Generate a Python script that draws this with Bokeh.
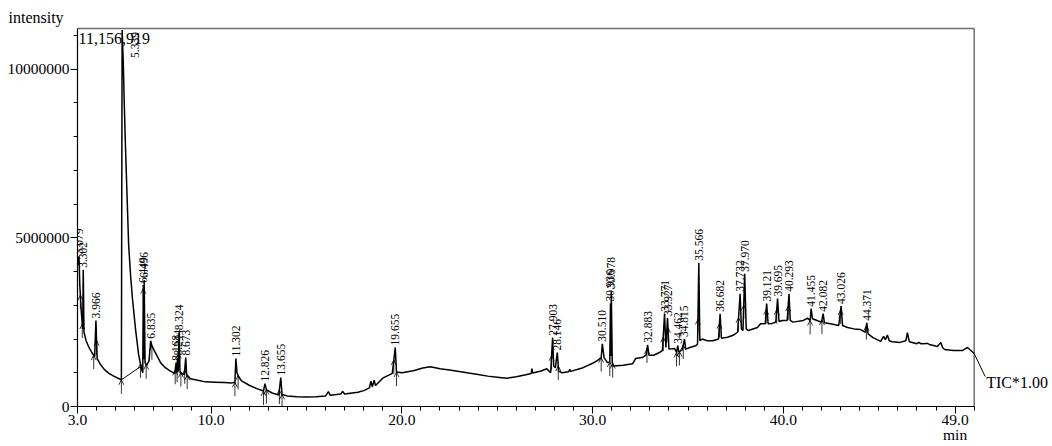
import numpy as np
from bokeh.plotting import figure
from bokeh.models import (FixedTicker, PrintfTickFormatter, ColumnDataSource, Range1d, LinearAxis)
from bokeh.core.properties import value
from bokeh.embed import file_html
from bokeh.resources import INLINE

# ---- chromatogram trace (time in min, intensity in millions) ----
time_min = [
    3.00, 3.079, 3.12, 3.20, 3.27, 3.302, 3.34, 3.45, 3.60, 3.75, 3.90, 3.966, 4.03, 4.20, 4.40, 4.65,
    4.90, 5.15, 5.30, 5.339, 5.40, 5.45, 5.52, 5.60, 5.68, 5.78, 5.88, 6.04, 6.20, 6.35, 6.42, 6.449,
    6.47, 6.496, 6.54, 6.62, 6.75, 6.835, 6.90, 7.00, 7.15, 7.35, 7.60, 7.87, 8.10, 8.168, 8.21, 8.244,
    8.28, 8.324, 8.37, 8.45, 8.60, 8.673, 8.72, 8.92, 9.30, 9.70, 10.20, 10.70, 11.10, 11.25, 11.302,
    11.36, 11.45, 11.60, 12.00, 12.40, 12.75, 12.826, 12.90, 13.20, 13.55, 13.655, 13.72, 14.00, 14.50,
    15.00, 15.50, 16.00, 16.15, 16.25, 16.80, 16.90, 17.00, 17.40, 17.70, 18.00, 18.30, 18.38, 18.45,
    18.55, 18.62, 19.00, 19.50, 19.655, 19.72, 20.00, 20.60, 21.10, 21.50, 22.00, 22.50, 23.00, 23.50,
    24.00, 24.50, 25.00, 25.50, 26.00, 26.50, 26.78, 26.82, 26.86, 27.30, 27.60, 27.80, 27.903, 27.96,
    28.05, 28.146, 28.22, 28.40, 28.75, 28.80, 28.85, 29.50, 30.00, 30.30, 30.45, 30.510, 30.60, 30.78,
    30.90, 30.936, 30.96, 30.978, 31.03, 31.10, 31.60, 32.10, 32.25, 32.60, 32.80, 32.883, 32.95, 33.20,
    33.50, 33.66, 33.771, 33.84, 33.927, 34.00, 34.30, 34.40, 34.462, 34.52, 34.70, 34.815, 34.88, 35.10,
    35.40, 35.50, 35.566, 35.62, 35.75, 36.00, 36.30, 36.60, 36.682, 36.75, 37.07, 37.40, 37.60, 37.732,
    37.80, 37.88, 37.970, 38.05, 38.17, 38.64, 38.80, 39.05, 39.121, 39.20, 39.40, 39.60, 39.695, 39.77,
    39.95, 40.20, 40.293, 40.36, 40.50, 41.05, 41.26, 41.40, 41.455, 41.52, 41.80, 42.00, 42.082, 42.15,
    42.47, 42.90, 43.026, 43.10, 43.36, 43.70, 44.04, 44.30, 44.371, 44.44, 44.70, 45.10, 45.25, 45.35,
    45.45, 45.55, 45.70, 46.10, 46.42, 46.50, 46.60, 47.00, 47.10, 47.20, 47.55, 47.65, 48.07, 48.25,
    48.35, 48.45, 48.90, 49.40, 49.65, 50.00,
]
intensity_m = [
    4.20, 4.45, 3.60, 2.80, 2.30, 4.05, 2.20, 1.95, 1.75, 1.60, 1.48, 2.55, 1.42, 1.25, 1.10, 0.98,
    0.90, 0.83, 0.79, 11.156919, 10.2, 9.0, 7.6, 6.2, 4.8, 3.9, 3.2, 2.30, 1.55, 1.12, 1.00, 3.60,
    1.40, 3.75, 1.30, 1.22, 1.35, 1.95, 1.80, 1.68, 1.52, 1.30, 1.15, 1.05, 0.98, 1.30, 1.00, 1.45,
    1.05, 2.20, 1.05, 0.98, 0.95, 1.45, 0.95, 0.82, 0.78, 0.73, 0.72, 0.71, 0.70, 0.72, 1.42,
    1.00, 0.88, 0.76, 0.63, 0.53, 0.46, 0.68, 0.50, 0.40, 0.34, 0.86, 0.36, 0.31, 0.29,
    0.28, 0.29, 0.31, 0.44, 0.33, 0.37, 0.45, 0.37, 0.40, 0.42, 0.47, 0.55, 0.75, 0.58,
    0.78, 0.62, 0.84, 0.98, 1.75, 1.02, 1.00, 1.06, 1.14, 1.18, 1.12, 1.08, 1.04, 0.99,
    0.95, 0.90, 0.87, 0.84, 0.88, 0.94, 0.98, 1.12, 0.99, 1.05, 1.12, 1.00, 2.04, 1.20,
    1.15, 1.60, 1.05, 1.00, 1.03, 1.10, 1.04, 1.15, 1.28, 1.38, 1.45, 1.86, 1.45, 1.30,
    1.32, 3.05, 1.50, 3.43, 1.30, 1.20, 1.22, 1.27, 1.42, 1.45, 1.52, 1.83, 1.52, 1.52,
    1.60, 1.66, 2.75, 1.75, 2.62, 1.70, 1.72, 1.60, 1.80, 1.62, 1.68, 2.00, 1.70, 1.75,
    1.80, 1.85, 4.26, 1.95, 2.00, 1.95, 1.95, 2.00, 2.75, 2.02, 2.05, 2.12, 2.20, 3.34,
    2.30, 2.25, 3.93, 2.30, 2.25, 2.34, 2.45, 2.45, 3.05, 2.45, 2.46, 2.50, 3.20, 2.52,
    2.55, 2.55, 3.34, 2.55, 2.50, 2.55, 2.62, 2.55, 2.90, 2.60, 2.54, 2.50, 2.75, 2.48,
    2.45, 2.40, 2.98, 2.40, 2.34, 2.30, 2.28, 2.20, 2.48, 2.15, 2.04, 1.93, 2.08, 1.98,
    2.12, 1.95, 1.92, 1.90, 1.95, 2.19, 1.92, 1.86, 1.90, 1.86, 1.87, 1.84, 1.78, 1.90,
    1.74, 1.69, 1.66, 1.66, 1.75, 1.57,
]

# labelled retention times (peak apexes)
peak_rt = ["3.079", "3.302", "3.966", "6.449", "6.496", "6.835", "8.168", "8.244", "8.324", "8.673",
           "11.302", "12.826", "13.655", "19.655", "27.903", "28.146", "30.510", "30.936", "30.978",
           "32.883", "33.771", "33.927", "34.462", "34.815", "35.566", "36.682", "37.732", "37.970",
           "39.121", "39.695", "40.293", "41.455", "42.082", "43.026", "44.371"]
main_peak_rt = "5.339"

# integration start/end marks (min)
integration_marks = [3.15, 3.25, 3.85, 4.0, 5.30, 6.30, 6.45, 6.60, 6.90, 8.12, 8.22, 8.30, 8.42,
                     8.62, 8.75, 11.25, 11.42, 12.75, 12.90, 13.58, 13.72, 19.58, 19.72, 27.85,
                     28.20, 30.45, 30.90, 31.05, 32.85, 33.70, 33.95, 34.40, 34.55, 34.75, 35.52,
                     36.65, 37.65, 37.92, 39.10, 39.65, 40.25, 41.40, 42.02, 43.00, 44.35]
# drop-line baseline under the main peak: (t0, I0, t1, I1) in min / millions
baseline_seg = [(5.30, 0.79, 6.30, 1.18)]

x_major = [3.0, 10.0, 20.0, 30.0, 40.0, 49.0]
y_major = [0, 5000000, 10000000]
x_end = 50.0
y_top = 11200000
trace_name = "TIC*1.00"
x_unit = "min"
y_title = "intensity"

FONT = "Liberation Serif"

t = np.array(time_min)
inten = np.array(intensity_m) * 1e6
max_int = int(round(inten.max()))

p = figure(width=1052, height=446, output_backend="svg", toolbar_location=None,
           x_range=Range1d(3.0, 54.0), y_range=Range1d(0, 11260000),
           min_border_left=77, min_border_right=2, min_border_top=26, min_border_bottom=40)
p.xgrid.visible = False
p.ygrid.visible = False
p.outline_line_color = None

p.title.text = y_title
p.title.align = "left"
p.title.offset = -69
p.title.standoff = 2
p.title.text_font = FONT
p.title.text_font_size = "16px"
p.title.text_font_style = "normal"
p.title.text_color = "black"

p.xaxis.ticker = FixedTicker(ticks=x_major, minor_ticks=list(np.arange(4, 51, 1.0)))
p.xaxis.formatter = PrintfTickFormatter(format="%.1f")
p.xaxis.bounds = (3.0, x_end)
p.yaxis.ticker = FixedTicker(ticks=y_major, minor_ticks=list(np.arange(1, 12) * 1e6))
p.yaxis.formatter = PrintfTickFormatter(format="%d")
p.yaxis.bounds = (0, y_top)
for ax in (p.xaxis[0], p.yaxis[0]):
    ax.axis_line_color = "black"
    ax.axis_line_width = 1.2
    ax.major_tick_line_color = "black"
    ax.minor_tick_line_color = "black"
    ax.major_tick_in = 0
    ax.major_tick_out = 7
    ax.minor_tick_in = 0
    ax.minor_tick_out = 4
    ax.major_label_text_font = FONT
    ax.major_label_text_font_size = "15.5px"
    ax.major_label_text_color = "black"
    ax.major_label_standoff = 1

unit_axis = LinearAxis(ticker=FixedTicker(ticks=[49.0]), major_label_overrides={49.0: x_unit},
                       axis_line_color=None, major_tick_line_color=None, minor_tick_line_color=None,
                       major_label_standoff=-8, major_label_text_font=FONT,
                       major_label_text_font_size="15.5px", major_label_text_color="black")
p.add_layout(unit_axis, "below")

# frame top / right borders (grey)
p.line([3.0, x_end], [y_top, y_top], line_color="#6e6e6e", line_width=1.5)
p.line([x_end, x_end], [0, y_top], line_color="#6e6e6e", line_width=1.5)

# trace
p.line(t, inten, line_color="black", line_width=1.5)

# baseline drop line
bs = np.array(baseline_seg)
p.segment(x0=bs[:, 0], y0=bs[:, 1] * 1e6, x1=bs[:, 2], y1=bs[:, 3] * 1e6,
          line_color="black", line_width=1)

px_per_min = 973 / 51.0
px_per_int = 380 / 11260000

# integration marks: upward arrows ending at the trace
mk_x = np.array(integration_marks)
mk_y = np.interp(mk_x, t, inten)
stem = 14 / px_per_int
p.segment(x0=mk_x, y0=mk_y, x1=mk_x, y1=mk_y - stem, line_color="black", line_width=0.8)
head_dx = 2.5 / px_per_min
head_dy = 5 / px_per_int
p.segment(x0=mk_x - head_dx, y0=mk_y - head_dy, x1=mk_x, y1=mk_y, line_color="black", line_width=0.8)
p.segment(x0=mk_x + head_dx, y0=mk_y - head_dy, x1=mk_x, y1=mk_y, line_color="black", line_width=0.8)

# peak labels
lab_x = [float(s) for s in peak_rt]
lab_y = list(np.interp(lab_x, t, inten))
src = ColumnDataSource(dict(x=lab_x, y=lab_y, text=peak_rt))
p.text(x="x", y="y", text="text", source=src, angle=np.pi / 2, text_align="left",
       text_baseline="middle", y_offset=-2, text_font=value(FONT), text_font_size="11.5px",
       text_color="black")

mx = float(main_peak_rt)
p.text(x=[mx], y=[max_int], text=[main_peak_rt], angle=np.pi / 2, text_align="left",
       text_baseline="middle", x_offset=13, y_offset=28, text_font=value(FONT),
       text_font_size="11.5px", text_color="black")

p.text(x=[3.0], y=[max_int], text=[f"{max_int:,}"], x_offset=1, y_offset=9,
       text_baseline="middle", text_font=value(FONT), text_font_size="16px", text_color="black")

# trace name with leader
p.text(x=[t[-1]], y=[inten[-1]], text=[trace_name], x_offset=12, y_offset=29,
       text_baseline="middle", text_font=value(FONT), text_font_size="16px", text_color="black")
p.segment(x0=[t[-1]], y0=[inten[-1]], x1=[t[-1] + 11 / px_per_min], y1=[inten[-1] - 23 / px_per_int],
          line_color="black", line_width=1)

open("out.html", "w").write(file_html(p, INLINE))
